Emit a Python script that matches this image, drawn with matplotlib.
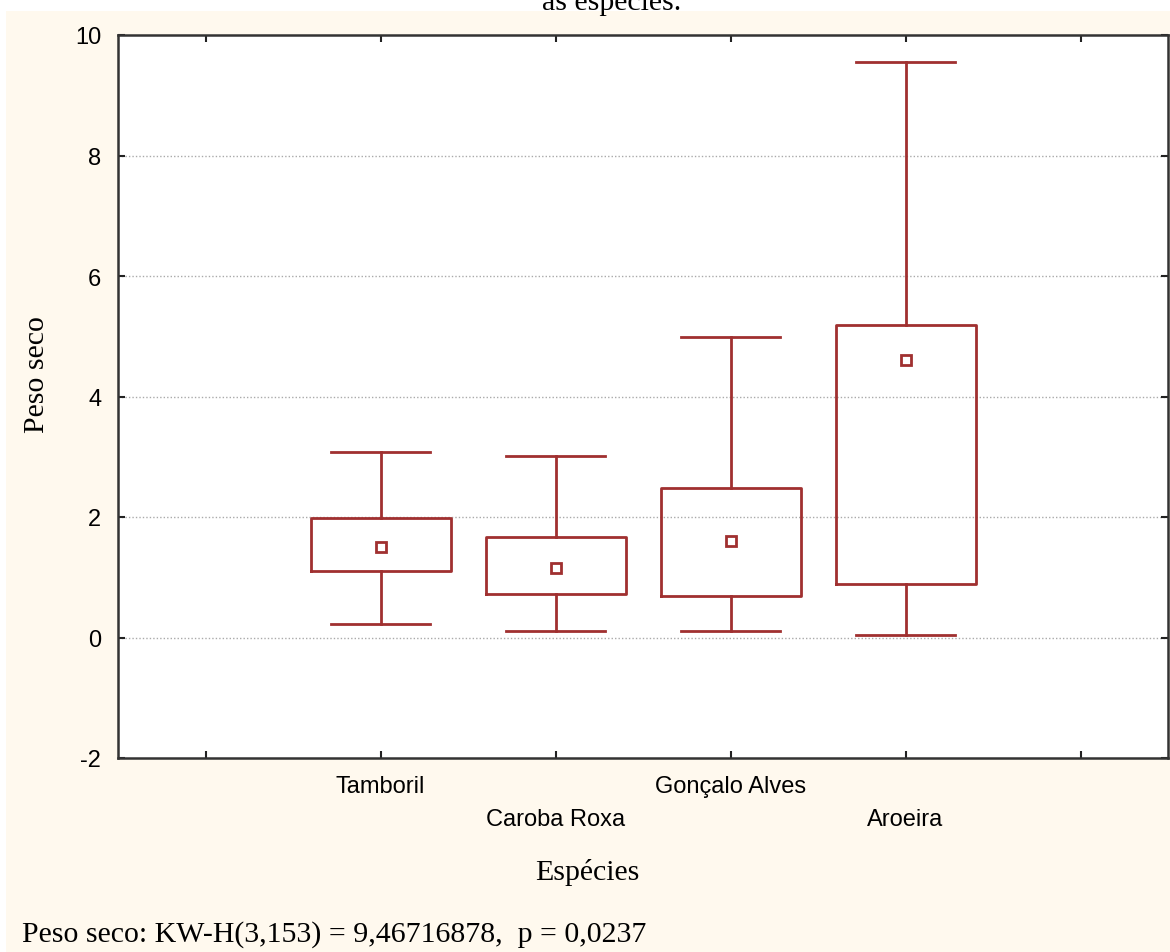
import matplotlib.pyplot as plt
from matplotlib.patches import Rectangle

# Peso seco por espécie (Statistica: mediana; caixa 25%-75%; bigodes min-max)
especies = ['Tamboril', 'Caroba Roxa', 'Gonçalo Alves', 'Aroeira']
minimo = [0.22, 0.11, 0.11, 0.04]
q1 = [1.10, 0.72, 0.69, 0.89]
mediana = [1.50, 1.15, 1.60, 4.61]
q3 = [1.98, 1.67, 2.48, 5.19]
maximo = [3.08, 3.01, 4.99, 9.55]

yticks = [-2, 0, 2, 4, 6, 8, 10]
nota = 'Peso seco: KW-H(3,153) = 9,46716878,  p = 0,0237'

cor = '#a03030'
serif = ['Liberation Serif', 'DejaVu Serif']
sans = ['Liberation Sans', 'DejaVu Sans']

fig = plt.figure(figsize=(11.7, 9.53), dpi=100, facecolor='white')
W, H = 1170, 953
fig.patches.append(Rectangle((6 / W, 0), 1 - 6 / W, 1 - 12 / H,
                             transform=fig.transFigure, facecolor='#fff9ee',
                             edgecolor='none', zorder=-10))

ax = fig.add_axes([118 / W, 1 - 759 / H, 1050 / W, 723 / H])
ax.set_facecolor('white')

stats = []
for i in range(len(especies)):
    stats.append(dict(label=especies[i], whislo=minimo[i], q1=q1[i], med=mediana[i],
                      q3=q3[i], whishi=maximo[i], fliers=[]))
pos = list(range(1, len(especies) + 1))
lp = dict(color=cor, linewidth=2.0)
ax.bxp(stats, positions=pos, widths=0.8, boxprops=lp, whiskerprops=lp,
       capprops=lp, medianprops=dict(linewidth=0), capwidths=0.57,
       manage_ticks=False)
ax.plot(pos, mediana, 's', ms=7, mfc='white', mec=cor, mew=2.0, ls='none', zorder=5)

ax.set_xlim(-0.5, 5.5)
ax.set_ylim(-2, 10)
ax.set_yticks(yticks)
ax.set_yticklabels([str(v) for v in yticks], family=sans, fontsize=17)
ax.set_xticks(range(0, 6))
ax.set_xticklabels([''] + especies + [''], family=sans, fontsize=17)
for k, t in enumerate(ax.xaxis.get_major_ticks()):
    t.set_pad(12 if k % 2 == 1 else 36)

ax.tick_params(direction='in', length=5, width=1.5, top=True, right=True, color='#222222')
ax.tick_params(axis='y', pad=12)
for s in ax.spines.values():
    s.set_linewidth(1.8)
    s.set_color('#333333')

for v in [0, 2, 4, 6, 8]:
    ax.axhline(v, color='#aaaaaa', lw=1.0, ls=(0, (1, 1.5)), zorder=0)

ax.set_xlabel('Espécies', family=serif, fontsize=21.5)
ax.xaxis.set_label_coords((587 - 118) / 1050, (759 - 873) / 723)
ax.xaxis.label.set_va('center')
ax.set_ylabel('Peso seco', family=serif, fontsize=21.5)
ax.yaxis.set_label_coords((37 - 118) / 1050, (759 - 375) / 723)
ax.yaxis.label.set_va('center')

fig.text(22 / W, 1 - 935 / H, nota, family=serif, fontsize=21.5, va='center', ha='left')
fig.text(612 / W, 1 - 10 / H, 'as espécies.', family=serif, fontsize=21.5,
         ha='center', va='baseline')

fig.savefig('out.png', dpi=100, facecolor=fig.get_facecolor())
